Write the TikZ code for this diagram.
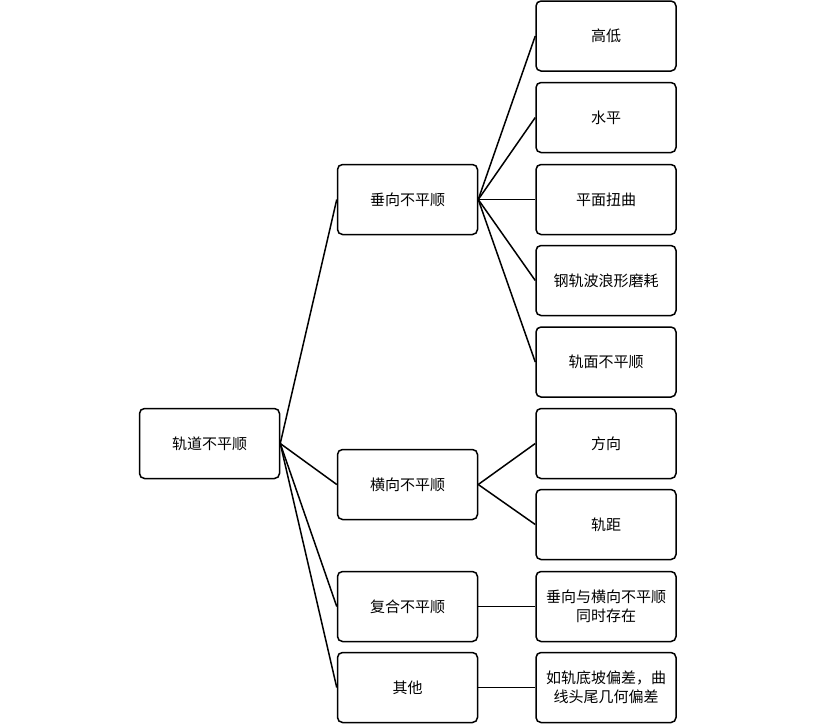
\documentclass[tikz,border=0pt]{standalone}
\usepackage{fontspec}
\setmainfont{Noto Sans CJK SC}
\begin{document}
\begin{tikzpicture}[x=1pt,y=-1pt,
    box/.style={draw,line width=1.5pt,rounded corners=5pt,minimum width=140pt,minimum height=70pt,
      align=center,font=\fontsize{15}{19}\selectfont,inner sep=1pt},
    link/.style={line width=1.5pt}]
    \useasboundingbox (0,0) rectangle (815,724);
    \node[box] (root) at (209.5,443.5) {轨道不平顺};
    \node[box] (vert) at (407.5,199.5) {垂向不平顺};
    \node[box] (lat) at (407.5,484.5) {横向不平顺};
    \node[box] (comb) at (407.5,606.5) {复合不平顺};
    \node[box] (other) at (407.5,687.5) {其他};
    \node[box] (a) at (606,36) {高低};
    \node[box] (b) at (606,117.5) {水平};
    \node[box] (c) at (606,199.5) {平面扭曲};
    \node[box] (d) at (606,280.5) {钢轨波浪形磨耗};
    \node[box] (e) at (606,362) {轨面不平顺};
    \node[box] (f) at (606,443.5) {方向};
    \node[box] (g) at (606,524.5) {轨距};
    \node[box] (h) at (606,606.5) {垂向与横向不平顺\\同时存在};
    \node[box] (k) at (606,687.5) {如轨底坡偏差，曲\\线头尾几何偏差};
    \foreach \n in {vert,lat,comb,other}
    {
        \draw[link] (root.east) -- (\n.west);
    }
    \foreach \n in {a,b,c,d,e}
    {
        \draw[link] (vert.east) -- (\n.west);
    }
    \foreach \n in {f,g}
    {
        \draw[link] (lat.east) -- (\n.west);
    }
    \draw[link] (comb.east) -- (h.west);
    \draw[link] (other.east) -- (k.west);
\end{tikzpicture}
\end{document}
